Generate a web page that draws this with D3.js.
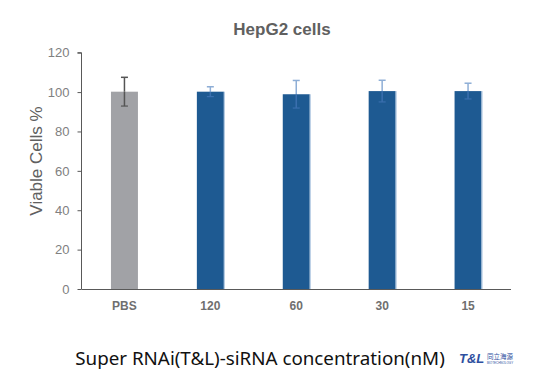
<!DOCTYPE html>
<html><head><meta charset="utf-8">
<script src="https://cdn.jsdelivr.net/npm/d3@7"></script>
<style>body{margin:0;background:#fff}svg{display:block}</style>
</head><body>
<script>
const categories = ["PBS", "120", "60", "30", "15"];
const values = [100.2, 100.2, 98.9, 100.5, 100.5];
const errors = [7.3, 2.5, 7.0, 5.5, 4.0];
const yTicks = [0, 20, 40, 60, 80, 100, 120];
const title = "HepG2 cells";
const yTitle = "Viable Cells %";
const xTitle = "Super RNAi(T&L)-siRNA concentration(nM)";

const W = 559, H = 381;
const svg = d3.select("body").append("svg").attr("width", W).attr("height", H);
const x = d3.scaleBand().domain(categories).range([81.5, 511]).paddingInner(0.686).paddingOuter(0.343);
const y = d3.scaleLinear().domain([0, 120]).range([289, 52.7]);

const barColor = (d, i) => i === 0 ? "#a1a2a6" : "#1e5a92";
const g = svg.append("g");
const data = categories.map((c, i) => ({c, v: values[i], e: errors[i], i}));

g.selectAll("rect.bar").data(data).enter().append("rect")
  .attr("x", d => x(d.c)).attr("y", d => y(d.v))
  .attr("width", x.bandwidth()).attr("height", d => y(0) - y(d.v))
  .attr("fill", (d) => barColor(d, d.i));
g.selectAll("line.edge").data(data.filter(d => d.i > 0)).enter().append("line")
  .attr("x1", d => x(d.c) + x.bandwidth() + 0.5).attr("x2", d => x(d.c) + x.bandwidth() + 0.5)
  .attr("y1", d => y(d.v)).attr("y2", y(0)).attr("stroke", "#a9c3df").attr("stroke-width", 1);

const errCol = d => d.i === 0 ? "#555" : "#8eaed6";
const errIn = d => d.i === 0 ? "#555" : "#3a6fae";
data.forEach(d => {
  const cx = x(d.c) + x.bandwidth() / 2;
  g.append("line").attr("x1", cx).attr("x2", cx).attr("y1", y(d.v + d.e)).attr("y2", y(d.v))
    .attr("stroke", errCol(d)).attr("stroke-width", 1.5);
  g.append("line").attr("x1", cx).attr("x2", cx).attr("y1", y(d.v)).attr("y2", y(d.v - d.e))
    .attr("stroke", errIn(d)).attr("stroke-width", 1.5);
  g.append("line").attr("x1", cx - 3.5).attr("x2", cx + 3.5).attr("y1", y(d.v + d.e)).attr("y2", y(d.v + d.e))
    .attr("stroke", errCol(d)).attr("stroke-width", 1.5);
  g.append("line").attr("x1", cx - 3.5).attr("x2", cx + 3.5).attr("y1", y(d.v - d.e)).attr("y2", y(d.v - d.e))
    .attr("stroke", errIn(d)).attr("stroke-width", 1.2);
});

const ya = svg.append("g").attr("transform", "translate(81.5,0)")
  .call(d3.axisLeft(y).tickValues(yTicks).tickSize(4).tickPadding(8));
ya.select(".domain").attr("stroke", "#595959").attr("d", `M-4,${y(120)}H0V${y(0)}`);
ya.selectAll(".tick line").attr("stroke", "#595959");
ya.selectAll(".tick text").attr("fill", "#808080").style("font-family", "Liberation Sans, Arial, sans-serif").style("font-size", "13px");

const xa = svg.append("g").attr("transform", "translate(0,289)")
  .call(d3.axisBottom(x).tickSize(0).tickPadding(12));
xa.select(".domain").attr("stroke", "#595959").attr("d", "M81.5,0.5H511");
xa.selectAll(".tick text").attr("fill", "#6f6f6f").style("font-family", "Liberation Sans, Arial, sans-serif").style("font-size", "12px").style("font-weight", "bold");

svg.append("text").attr("x", 282).attr("y", 35).attr("text-anchor", "middle")
  .style("font-family", "Liberation Sans, Arial, sans-serif").style("font-size", "17px").style("font-weight", "bold")
  .attr("fill", "#606060").text(title);
svg.append("text").attr("transform", "translate(42,161) rotate(-90)").attr("text-anchor", "middle")
  .style("font-family", "Liberation Sans, Arial, sans-serif").style("font-size", "17px")
  .attr("fill", "#606060").text(yTitle);
svg.append("text").attr("x", 260).attr("y", 365).attr("text-anchor", "middle")
  .style("font-family", "Noto Sans, sans-serif").style("font-size", "18.8px")
  .attr("fill", "#111").text(xTitle);
svg.append("text").attr("x", 459).attr("y", 363)
  .style("font-family", "Liberation Sans, Arial, sans-serif").style("font-size", "13px").style("font-weight", "bold").style("font-style", "italic")
  .attr("fill", "#2e4fa0").text("T&L");
svg.append("text").attr("x", 487).attr("y", 359)
  .style("font-family", "Noto Sans CJK SC, sans-serif").style("font-size", "6.5px")
  .attr("fill", "#2e4fa0").text("同立海源");
svg.append("text").attr("x", 487).attr("y", 364)
  .style("font-family", "Liberation Sans, sans-serif").style("font-size", "3px")
  .attr("fill", "#2e4fa0").text("BIOTECHNOLOGY");
</script>
</body></html>
